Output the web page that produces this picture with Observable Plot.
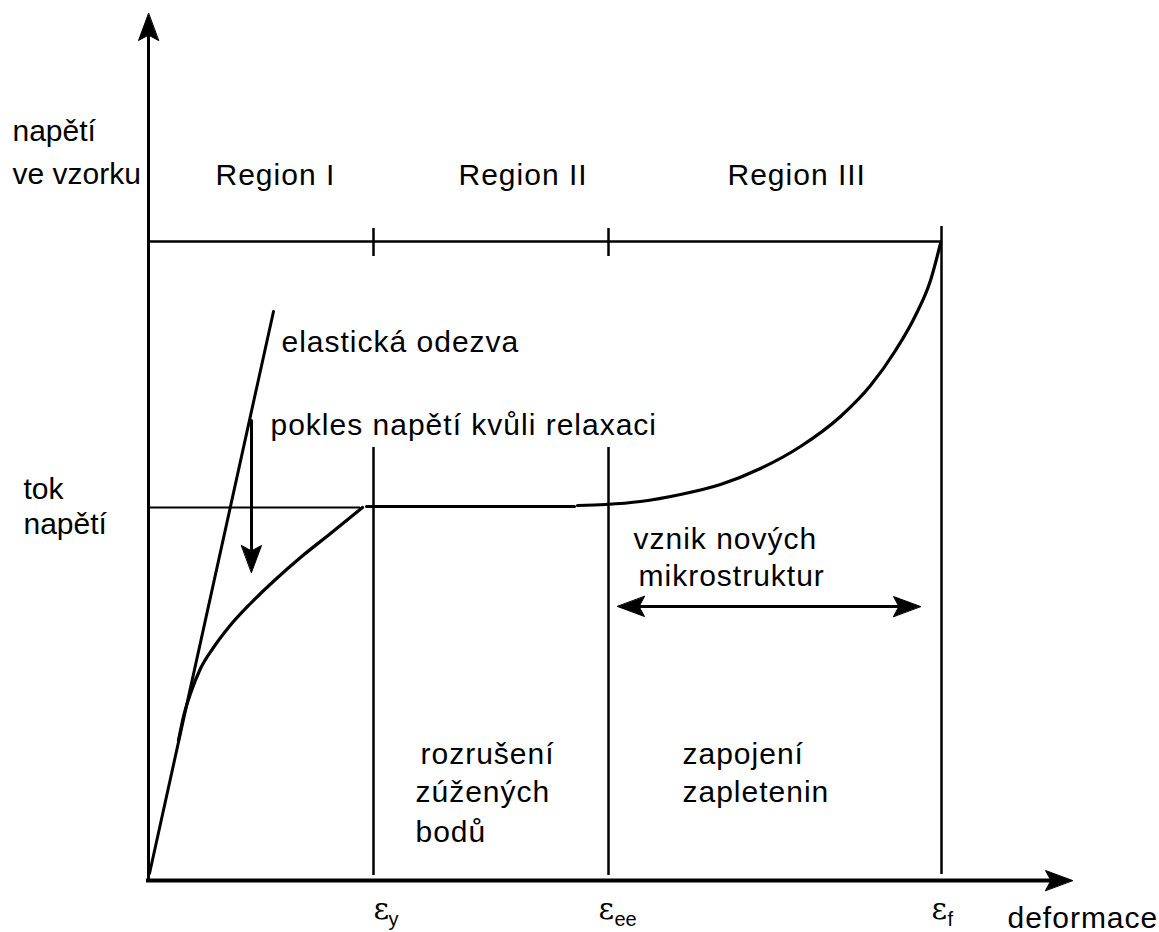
<!DOCTYPE html>
<html>
<head>
<meta charset="utf-8">
<script src="https://cdn.jsdelivr.net/npm/d3@7"></script>
<script src="https://cdn.jsdelivr.net/npm/@observablehq/plot@0.6"></script>
<style>
  html, body { margin: 0; padding: 0; background: #fff; }
  #chart svg { display: block; overflow: visible; }
  .tight, .tight text { letter-spacing: 0px; }
  .spaced, .spaced text { letter-spacing: 1px; }
</style>
</head>
<body>
<div id="chart"></div>
<script>
// ---- data (strain on x, stress on y, schematic units) ----
const strainTicks = [
  {name: "y",  strain: 225},
  {name: "ee", strain: 460},
  {name: "f",  strain: 793}
];
const flowStress = 373;
const topStress = 639;

const elastic = [{strain: 1, stress: 7}, {strain: 125, stress: 569}];
const relaxationCurve = [
  {strain: 30, stress: 140}, {strain: 35, stress: 164}, {strain: 42, stress: 187},
  {strain: 52, stress: 212}, {strain: 65, stress: 233}, {strain: 80, stress: 253},
  {strain: 102, stress: 277}, {strain: 127, stress: 301}, {strain: 152, stress: 323},
  {strain: 182, stress: 347}, {strain: 214, stress: 373}
];
const plateau = [{strain: 218, stress: 374}, {strain: 426, stress: 374}];
const hardeningCurve = [
  {strain: 429, stress: 375}, {strain: 457, stress: 376}, {strain: 492, stress: 379},
  {strain: 532, stress: 386}, {strain: 572, stress: 396}, {strain: 612, stress: 412},
  {strain: 652, stress: 434}, {strain: 692, stress: 464}, {strain: 722, stress: 495},
  {strain: 747, stress: 530}, {strain: 767, stress: 565}, {strain: 782, stress: 600},
  {strain: 792, stress: 637}
];
const relaxArrow = [{strain: 103, stress: 460}, {strain: 103, stress: 318}];
const newMicroArrow = [{strain: 480, stress: 274}, {strain: 760, stress: 274}];

const arrowTips = [
  {strain: 0, stress: 867, dir: 0},
  {strain: 924, stress: 0, dir: 90},
  {strain: 103, stress: 308, dir: 180},
  {strain: 469, stress: 274, dir: 270},
  {strain: 772, stress: 274, dir: 90}
];

const axisLabels = [
  {text: "napětí", strain: -136, stress: 740},
  {text: "ve vzorku", strain: -136, stress: 697},
  {text: "tok", strain: -125, stress: 382},
  {text: "napětí", strain: -125, stress: 347}
];
const labels = [
  {text: "Region I", strain: 67, stress: 696},
  {text: "Region II", strain: 310, stress: 696},
  {text: "Region III", strain: 579, stress: 696},
  {text: "elastická odezva", strain: 133, stress: 529},
  {text: "pokles napětí kvůli relaxaci", strain: 122, stress: 446},
  {text: "vznik nových", strain: 485, stress: 332},
  {text: "mikrostruktur", strain: 490, stress: 295},
  {text: "rozrušení", strain: 272, stress: 117},
  {text: "zúžených", strain: 267, stress: 79},
  {text: "bodů", strain: 267, stress: 39},
  {text: "zapojení", strain: 534, stress: 117},
  {text: "zapletenin", strain: 534, stress: 79},
  {text: "deformace", strain: 859, stress: -47}
];
const epsLabels = [
  {text: "ε", strain: 225, stress: -38},
  {text: "ε", strain: 450, stress: -38},
  {text: "ε", strain: 783, stress: -38}
];
const epsSubs = [
  {text: "y", strain: 240, stress: -45},
  {text: "ee", strain: 466, stress: -45},
  {text: "f", strain: 799, stress: -45}
];

// ---- drawing ----
const head = {
  draw(ctx, l, r) {
    ctx.moveTo(0, -l);
    ctx.lineTo(-r, 0);
    ctx.lineTo(0, -l * 0.2);
    ctx.lineTo(r, 0);
    ctx.closePath();
  }
};
const font = "Arial, 'Liberation Sans', sans-serif";

const chart = Plot.plot({
  width: 1159,
  height: 932,
  margin: 0,
  x: {domain: [-148, 1011], axis: null},
  y: {domain: [-52, 880], axis: null},
  style: {fontFamily: font, background: "#fff"},
  marks: [
    // axes
    Plot.ruleX([0], {y1: 0, y2: 850, stroke: "black", strokeWidth: 3}),
    Plot.ruleY([0], {x1: -2, x2: 905, stroke: "black", strokeWidth: 4}),
    // top stress line + ticks
    Plot.ruleY([topStress], {x1: 0, x2: strainTicks[2].strain, stroke: "black", strokeWidth: 2.5}),
    Plot.ruleX(strainTicks.slice(0, 2), {x: "strain", y1: 624, y2: 652, stroke: "black", strokeWidth: 2.5}),
    // vertical region boundaries
    Plot.ruleX(strainTicks.slice(0, 2), {x: "strain", y1: 5, y2: 433, stroke: "black", strokeWidth: 2.5}),
    Plot.ruleX([strainTicks[2]], {x: "strain", y1: 6, y2: 654, stroke: "black", strokeWidth: 2.5}),
    // flow stress level
    Plot.ruleY([flowStress], {x1: 0, x2: 212, stroke: "black", strokeWidth: 2}),
    Plot.line(plateau, {x: "strain", y: "stress", stroke: "black", strokeWidth: 3}),
    // elastic response
    Plot.line(elastic, {x: "strain", y: "stress", stroke: "black", strokeWidth: 3}),
    // relaxation curve
    Plot.line(relaxationCurve, {x: "strain", y: "stress", curve: "monotone-x", stroke: "black", strokeWidth: 3.2}),
    // hardening curve
    Plot.line(hardeningCurve, {x: "strain", y: "stress", curve: "monotone-x", stroke: "black", strokeWidth: 3.2}),
    // arrows
    Plot.line(relaxArrow, {x: "strain", y: "stress", stroke: "black", strokeWidth: 3}),
    Plot.line(newMicroArrow, {x: "strain", y: "stress", stroke: "black", strokeWidth: 3}),
    Plot.vector(arrowTips, {x: "strain", y: "stress", rotate: "dir", length: 27, r: 10, anchor: "end",
      shape: head, fill: "black", stroke: "black", strokeWidth: 1}),
    // texts
    Plot.text(axisLabels, {x: "strain", y: "stress", text: "text", textAnchor: "start", lineAnchor: "bottom",
      fontSize: 30, fill: "black", fontFamily: font, className: "tight"}),
    Plot.text(labels, {x: "strain", y: "stress", text: "text", textAnchor: "start", lineAnchor: "bottom",
      fontSize: 30, fill: "black", fontFamily: font, className: "spaced"}),
    Plot.text(epsLabels, {x: "strain", y: "stress", text: "text", textAnchor: "start", lineAnchor: "bottom",
      fontSize: 30, fill: "black", fontFamily: "'DejaVu Serif', serif"}),
    Plot.text(epsSubs, {x: "strain", y: "stress", text: "text", textAnchor: "start", lineAnchor: "bottom",
      fontSize: 20, fill: "black", fontFamily: font})
  ]
});
document.getElementById("chart").append(chart);
</script>
</body>
</html>
